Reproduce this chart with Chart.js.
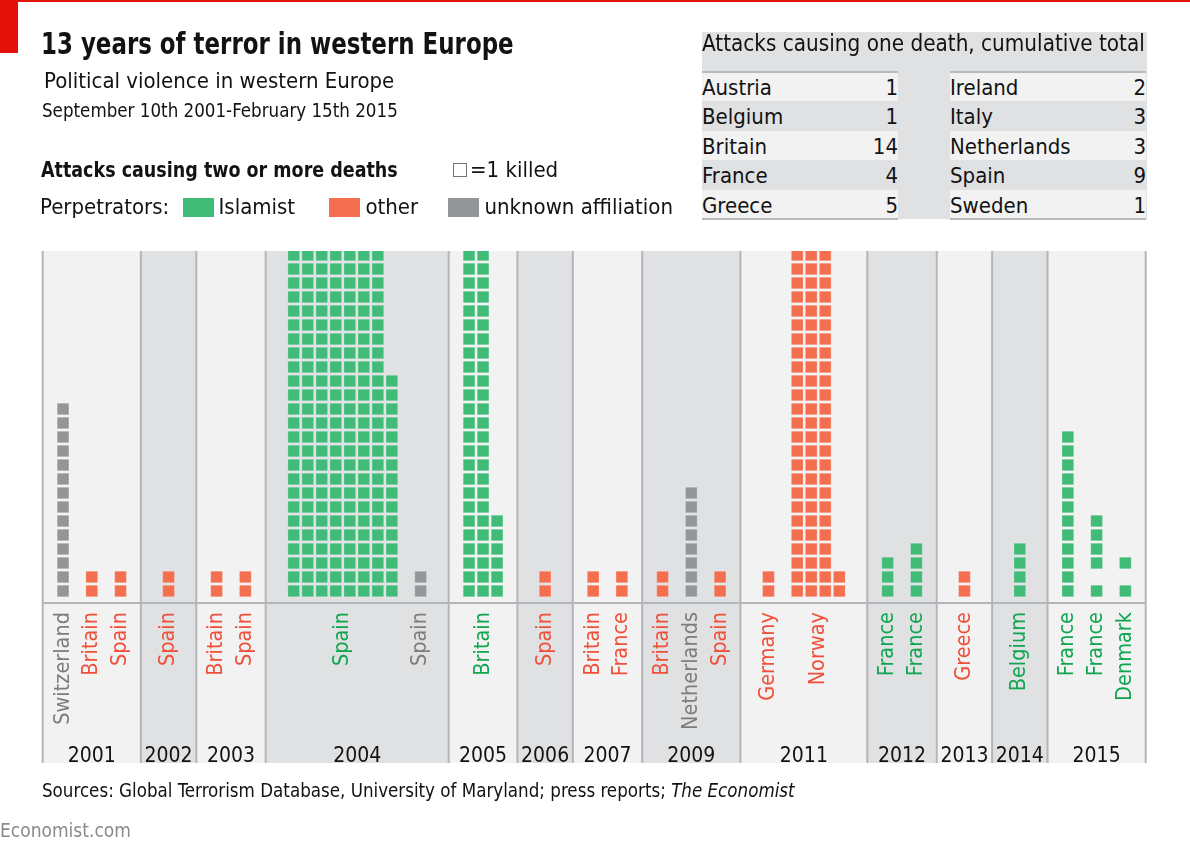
<!DOCTYPE html>
<html>
<head>
<meta charset="utf-8">
<script src="https://cdn.jsdelivr.net/npm/chart.js@4.4.1/dist/chart.umd.min.js"></script>
<style>
  body { margin: 0; width: 1190px; height: 849px; position: relative; overflow: hidden; background: #fff;
         font-family: "Liberation Sans Narrow", "DejaVu Sans Condensed", "Roboto", sans-serif; color: #121212; }
  .t { position: absolute; white-space: nowrap; line-height: 1; transform-origin: 0 0; }
  #chart { position: absolute; left: 0; top: 0; }
  .sw { display: inline-block; width: 31px; height: 19px; vertical-align: -3px; margin-right: 5px; }
  .row { position: absolute; height: 29.4px; font-size: 22px; line-height: 31px; display: flex; justify-content: space-between; }
</style>
</head>
<body>
<canvas id="chart" width="1190" height="849"></canvas>

<div style="position:absolute;left:0;top:0;width:1190px;height:2px;background:#e3120b"></div>
<div style="position:absolute;left:0;top:0;width:18px;height:53px;background:#e3120b"></div>

<div class="t" style="left:41px;top:29px;font-size:30px;font-weight:bold;transform:scaleX(0.85)">13 years of terror in western Europe</div>
<div class="t" style="left:44px;top:70px;font-size:22px">Political violence in western Europe</div>
<div class="t" style="left:42px;top:102px;font-size:18.6px">September 10th 2001-February 15th 2015</div>

<div class="t" style="left:41px;top:159px;font-size:22px;font-weight:bold;transform:scaleX(0.885)">Attacks causing two or more deaths</div>
<div class="t" style="left:453px;top:159px;font-size:22px"><span style="display:inline-block;width:12px;height:12px;border:1px solid #777;vertical-align:0px;margin-right:3px"></span>=1 killed</div>
<div class="t" style="left:40px;top:196px;font-size:22px">Perpetrators:
  <span style="margin-left:7px" class="sw" id="swIslamist"></span>Islamist
  <span style="margin-left:28px" class="sw" id="swOther"></span>other
  <span style="margin-left:24px" class="sw" id="swUnknown"></span>unknown affiliation</div>

<div style="position:absolute;left:702px;top:32px;width:445px;height:187px;background:#e0e1e3"></div>
<div class="t" style="left:702px;top:32px;font-size:22.3px">Attacks causing one death, cumulative total</div>
<div id="tbl"></div>

<div class="t" style="left:42px;top:782px;font-size:18.6px">Sources: Global Terrorism Database, University of Maryland; press reports; <i>The Economist</i></div>
<div class="t" style="left:0px;top:821px;font-size:19px;color:#8a8a8a">Economist.com</div>

<script>
// Attacks causing two or more deaths, in date order
const years = ['2001', '2001', '2001', '2002', '2003', '2003', '2004', '2004', '2005', '2006', '2007', '2007',
               '2009', '2009', '2009', '2011', '2011', '2012', '2012', '2013', '2014', '2015', '2015', '2015'];
const countries = ['Switzerland', 'Britain', 'Spain', 'Spain', 'Britain', 'Spain', 'Spain', 'Spain', 'Britain', 'Spain',
                   'Britain', 'France', 'Britain', 'Netherlands', 'Spain', 'Germany', 'Norway', 'France', 'France',
                   'Greece', 'Belgium', 'France', 'France', 'Denmark'];
const perpetrators = ['unknown', 'other', 'other', 'other', 'other', 'other', 'islamist', 'unknown', 'islamist', 'other',
                      'other', 'other', 'other', 'unknown', 'other', 'other', 'other', 'islamist', 'islamist',
                      'other', 'islamist', 'islamist', 'islamist', 'islamist'];
// deaths per incident; separate incidents sharing a column are listed together
const deaths = [[14], [2], [2], [2], [2], [2], [191], [2], [56], [2], [2], [2], [2], [8], [2], [2], [77], [3], [4],
                [2], [4], [12], [1, 4], [1, 1]];

// Attacks causing one death
const singleCountriesA = ['Austria', 'Belgium', 'Britain', 'France', 'Greece'];
const singleTotalsA = [1, 1, 14, 4, 5];
const singleCountriesB = ['Ireland', 'Italy', 'Netherlands', 'Spain', 'Sweden'];
const singleTotalsB = [2, 3, 3, 9, 1];

const colours = { islamist: '#40bb78', other: '#f36f50', unknown: '#939598' };
const textColours = { islamist: '#0fa650', other: '#f0503a', unknown: '#7d7d7d' };
document.getElementById('swIslamist').style.background = colours.islamist;
document.getElementById('swOther').style.background = colours.other;
document.getElementById('swUnknown').style.background = colours.unknown;

// one-death table
function buildTable(names, totals, left) {
  const bg = ['#f2f2f2', '#e0e1e3'];
  names.forEach((n, i) => {
    const d = document.createElement('div');
    d.className = 'row';
    d.style.left = left + 'px';
    d.style.top = (72 + i * 29.4) + 'px';
    d.style.width = '196px';
    d.style.background = bg[i % 2];
    d.innerHTML = '<span>' + n + '</span><span>' + totals[i] + '</span>';
    document.getElementById('tbl').appendChild(d);
  });
  ['71px', '218px'].forEach(top => {
    const l = document.createElement('div');
    l.style.cssText = 'position:absolute;height:2px;width:196px;background:#b8b9bb;left:' + left + 'px;top:' + top;
    document.getElementById('tbl').appendChild(l);
  });
}
buildTable(singleCountriesA, singleTotalsA, 702);
buildTable(singleCountriesB, singleTotalsB, 950);

// layout: 25 squares per column, columns of one attack side by side
const ROWS = 25, PAD = 1.45, PAD_WIDE = 2, GAP = 2.05, MIN_BAND = 3.95;
const cells = [];
const ncols = [];
deaths.forEach(list => {
  const pts = [];
  let col = 0, row = 0;
  list.forEach((n, i) => {
    if (i > 0) row++;   // leave a gap between separate incidents
    for (let k = 0; k < n; k++) {
      if (row >= ROWS) { col++; row = 0; }
      pts.push({ col, row });
      row++;
    }
  });
  cells.push(pts);
  ncols.push(col + 1);
});

const bands = [];
const firstCol = [];
let cursor = 0;
years.forEach((y, i) => {
  if (i === 0 || years[i - 1] !== y) bands.push({ year: y, items: [] });
  bands[bands.length - 1].items.push(i);
});
bands.forEach(b => {
  let span = 0;
  b.items.forEach((a, j) => { if (j > 0) span += GAP; span += ncols[a] - 1; });
  const pad = b.items.some(a => ncols[a] >= 4) ? PAD_WIDE : PAD;
  const width = Math.max(span + 2 * pad, MIN_BAND);
  b.start = cursor;
  b.end = cursor + width;
  let x = cursor + (width - span) / 2;
  b.items.forEach((a, j) => {
    if (j > 0) x += GAP;
    firstCol[a] = x;
    x += ncols[a] - 1;
  });
  cursor = b.end;
});
const totalWidth = cursor;

const datasets = ['islamist', 'other', 'unknown'].map(type => {
  const data = [];
  cells.forEach((pts, a) => {
    if (perpetrators[a] !== type) return;
    pts.forEach(p => data.push({ x: firstCol[a] + p.col, y: p.row }));
  });
  return {
    label: type, data,
    backgroundColor: colours[type],
    borderColor: 'rgba(255,255,255,0.3)',
    borderWidth: 0.8,
    pointStyle: 'rect',
    pointRadius: 8.3,
    clip: 0
  };
});

const FONT = '"Liberation Sans Narrow", "DejaVu Sans Condensed", Roboto, sans-serif';
const bandsPlugin = {
  id: 'bands',
  beforeDatasetsDraw(chart) {
    const { ctx, chartArea, scales: { x } } = chart;
    const top = chartArea.top, bottom = 763;
    ctx.save();
    bands.forEach((b, i) => {
      ctx.fillStyle = i % 2 ? '#e0e1e3' : '#f2f2f2';
      const x0 = x.getPixelForValue(b.start), x1 = x.getPixelForValue(b.end);
      ctx.fillRect(x0, top, x1 - x0, bottom - top);
    });
    ctx.strokeStyle = '#b4b5b8';
    ctx.lineWidth = 2;
    ctx.beginPath();
    bands.forEach((b, i) => {
      const px = x.getPixelForValue(b.start);
      ctx.moveTo(px, top); ctx.lineTo(px, bottom);
      if (i === bands.length - 1) {
        const pe = x.getPixelForValue(b.end);
        ctx.moveTo(pe, top); ctx.lineTo(pe, bottom);
      }
    });
    ctx.moveTo(chartArea.left, chartArea.bottom);
    ctx.lineTo(chartArea.right, chartArea.bottom);
    ctx.stroke();

    // year labels
    ctx.fillStyle = '#121212';
    ctx.font = '21px ' + FONT;
    ctx.textAlign = 'center';
    ctx.textBaseline = 'alphabetic';
    bands.forEach(b => {
      ctx.fillText(b.year, x.getPixelForValue((b.start + b.end) / 2), 762);
    });

    // country labels, rotated
    ctx.font = '21.5px ' + FONT;
    ctx.textAlign = 'right';
    ctx.textBaseline = 'middle';
    countries.forEach((c, a) => {
      const cx = x.getPixelForValue(firstCol[a] + (ncols[a] - 1) / 2);
      ctx.save();
      ctx.translate(cx, 612);
      ctx.rotate(-Math.PI / 2);
      ctx.fillStyle = textColours[perpetrators[a]];
      ctx.fillText(c, 0, 0);
      ctx.restore();
    });
    ctx.restore();
  }
};

new Chart(document.getElementById('chart'), {
  type: 'scatter',
  data: { datasets },
  options: {
    responsive: false,
    animation: false,
    layout: { padding: { left: 42.7, top: 251, right: 44.3, bottom: 246 } },
    scales: {
      x: { type: 'linear', min: 0, max: totalWidth, display: false },
      y: { type: 'linear', min: -0.857, max: 24.286, display: false }
    },
    plugins: { legend: { display: false }, tooltip: { enabled: false } }
  },
  plugins: [bandsPlugin]
});
</script>
</body>
</html>
